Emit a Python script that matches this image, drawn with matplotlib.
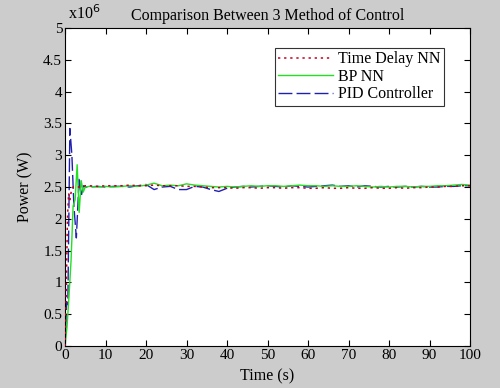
import matplotlib
matplotlib.use('Agg')
import matplotlib.pyplot as plt

plt.rcParams['font.family'] = ['Liberation Serif', 'DejaVu Serif']

# transient part (time in s, power in units of 1e6 W)
t_tdnn_start = [0, 0.3, 0.6, 0.9, 1.2, 1.6, 2.0, 3.0, 4.0, 5.0]
p_tdnn_start = [0.0, 0.8, 2.0, 2.4, 2.3, 2.45, 2.5, 2.5, 2.5, 2.52]

t_bp_start = [0, 0.5, 1.0, 1.5, 2.0, 2.5, 3.0, 3.5, 4.0, 4.5, 5.0]
p_bp_start = [0.0, 0.3, 0.8, 1.35, 2.2, 2.3, 2.85, 2.1, 2.6, 2.42, 2.5]

t_pid_start = [0, 0.4, 0.7, 1.2, 1.7, 2.2, 2.8, 3.5, 4.0, 4.5, 5.0]
p_pid_start = [0.0, 0.7, 0.65, 3.42, 3.0, 2.2, 1.7, 2.65, 2.35, 2.52, 2.5]

# steady part, sampled every 2 s from 6 to 100
t_steady = list(range(6, 101, 2))
p_tdnn_steady = [2.52, 2.51, 2.52, 2.52, 2.52, 2.53, 2.52, 2.52, 2.53, 2.52,
                 2.52, 2.52, 2.51, 2.51, 2.50, 2.49, 2.49, 2.49, 2.48, 2.49,
                 2.49, 2.48, 2.49, 2.49, 2.48, 2.49, 2.49, 2.48, 2.48, 2.49,
                 2.48, 2.48, 2.49, 2.48, 2.48, 2.49, 2.48, 2.48, 2.49, 2.48,
                 2.49, 2.49, 2.50, 2.50, 2.51, 2.51, 2.52, 2.52]
p_bp_steady = [2.51, 2.50, 2.51, 2.50, 2.51, 2.52, 2.51, 2.53, 2.56, 2.52,
               2.53, 2.52, 2.55, 2.53, 2.52, 2.51, 2.50, 2.51, 2.50, 2.51,
               2.52, 2.51, 2.52, 2.52, 2.51, 2.52, 2.53, 2.52, 2.52, 2.51,
               2.52, 2.51, 2.51, 2.52, 2.51, 2.50, 2.51, 2.50, 2.51, 2.51,
               2.50, 2.51, 2.51, 2.52, 2.52, 2.53, 2.54, 2.53]
p_pid_steady = [2.50, 2.51, 2.50, 2.51, 2.51, 2.50, 2.52, 2.54, 2.46, 2.50,
                2.51, 2.46, 2.46, 2.51, 2.50, 2.46, 2.43, 2.48, 2.50, 2.51,
                2.50, 2.51, 2.52, 2.51, 2.50, 2.52, 2.51, 2.50, 2.51, 2.52,
                2.53, 2.51, 2.52, 2.50, 2.52, 2.51, 2.50, 2.51, 2.50, 2.51,
                2.50, 2.51, 2.50, 2.50, 2.51, 2.51, 2.52, 2.52]

x_ticks = list(range(0, 101, 10))
y_ticks = [0, 0.5, 1, 1.5, 2, 2.5, 3, 3.5, 4, 4.5, 5]
y_labels = ['0', '0.5', '1', '1.5', '2', '2.5', '3', '3.5', '4', '4.5', '5']

fig = plt.figure(figsize=(5, 3.88), dpi=100, facecolor='#cccccc')
ax = fig.add_axes([0.13, 0.108, 0.81, 0.82])

ax.plot(t_tdnn_start + t_steady, p_tdnn_start + p_tdnn_steady, color='#c00020',
        linestyle=(0, (1.5, 2.5)), lw=1.1, label='Time Delay NN', zorder=3)
ax.plot(t_bp_start + t_steady, p_bp_start + p_bp_steady, color='#22e022',
        lw=1.0, label='BP NN', zorder=2)
ax.plot(t_pid_start + t_steady, p_pid_start + p_pid_steady, color='#2020b0',
        linestyle=(0, (10, 3)), lw=1.0, label='PID Controller', zorder=1)

ax.set_xlim(0, 100)
ax.set_ylim(0, 5)
ax.set_xticks(x_ticks)
ax.set_yticks(y_ticks)
ax.set_yticklabels(y_labels)
ax.tick_params(direction='in', top=True, right=True, labelsize=11, length=4,
               pad=2)
ax.set_xlabel('Time (s)', fontsize=11.5, labelpad=5)
ax.set_ylabel('Power (W)', fontsize=11.5, labelpad=7)
ax.set_title('Comparison Between 3 Method of Control', fontsize=11.5, pad=6)
ax.text(0.008, 1.015, r'x10$^{6}$', transform=ax.transAxes, fontsize=11.5,
        ha='left', va='bottom')

leg = ax.legend(loc='upper right', bbox_to_anchor=(0.936, 0.937), fontsize=11.5,
                frameon=True, fancybox=False, edgecolor='black',
                handlelength=3.4, handletextpad=0.35, borderpad=0.2,
                labelspacing=0.1, borderaxespad=0)
leg.get_frame().set_linewidth(0.8)

fig.savefig('out.png', dpi=100, facecolor=fig.get_facecolor())
